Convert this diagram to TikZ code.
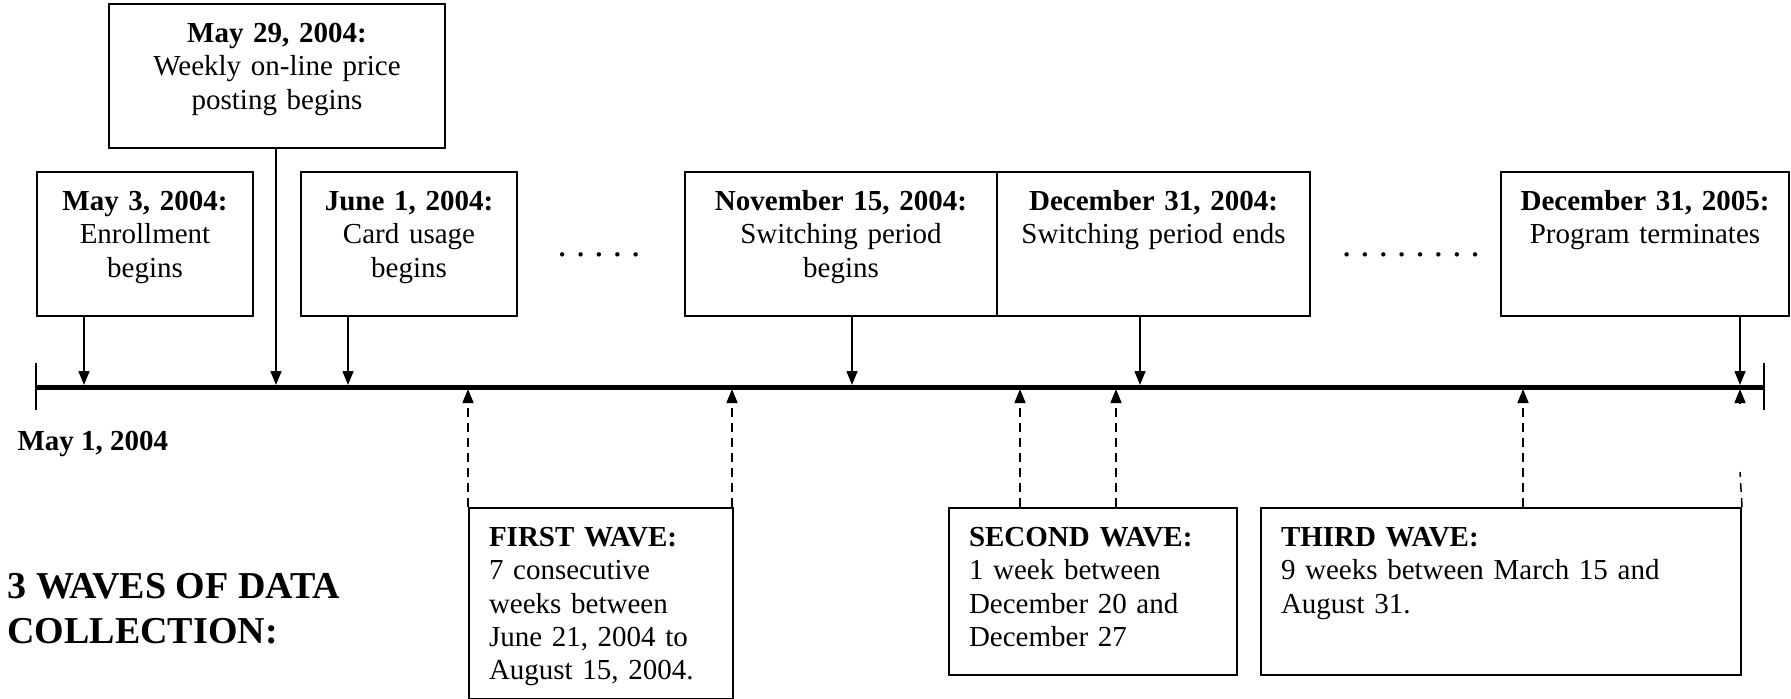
\documentclass[tikz,border=0pt]{standalone}
\usepackage{fontspec}
\setmainfont{Liberation Serif}
\usetikzlibrary{arrows.meta}

\tikzset{
  evbox/.style={draw, line width=0.8pt, inner xsep=4pt, inner ysep=7.4pt, text height=8pt, align=center, anchor=north west},
  wavebox/.style={evbox, inner xsep=8pt, align=left},
  evarrow/.style={line width=0.6pt, -{Triangle[length=5.6pt, width=4.4pt]}},
  wavearrow/.style={evarrow, dash pattern=on 3.6pt off 2.4pt},
  timeline/.style={line width=2pt},
  dotrow/.style={inner sep=0pt, font=\fontsize{#1}{#1}\selectfont},
}

\begin{document}
\begin{tikzpicture}[x=0.4pt, y=-0.4pt, every node/.style={font=\fontsize{11.6}{13.3}\selectfont}] % 1 Einheit = 1 Pixel
\useasboundingbox (0,0) rectangle (1791,699);
% Zeitachse
\coordinate (tlA) at (36,387);
\coordinate (tlB) at (1764,387);
\draw[timeline] (tlA) -- (tlB);
\draw[line width=0.6pt] (36,363) -- (36,410);
\draw[line width=0.6pt] (1764,363) -- (1764,410);
\node[anchor=base west, inner sep=0pt] (startdate) at (17,450) {\textbf{May 1, 2004}};
% Ereignisse oben
\node[evbox, text width=126.4pt, text depth=34.8pt] (posting) at (108,3) {\textbf{May 29, 2004:}\\Weekly on-line price\\posting begins};
\node[evbox, text width=78.4pt, text depth=34.8pt] (enroll) at (36,171) {\textbf{May 3, 2004:}\\Enrollment\\begins};
\node[evbox, text width=78.4pt, text depth=34.8pt] (usage) at (300,171) {\textbf{June 1, 2004:}\\Card usage\\begins};
\node[evbox, text width=116.8pt, text depth=34.8pt] (switchA) at (684,171) {\textbf{November 15, 2004:}\\Switching period\\begins};
\node[evbox, text width=117.2pt, text depth=34.8pt] (switchB) at (996,171) {\textbf{December 31, 2004:}\\Switching period ends};
\node[evbox, text width=107.2pt, text depth=34.8pt] (progend) at (1500,171) {\textbf{December 31, 2005:}\\Program terminates};
\node[dotrow=14.7] (gapA) at (599,255) {\frenchspacing. . . . .};
\node[dotrow=14.7] (gapB) at (1411,255) {\frenchspacing. . . . . . . .};
% Pfeile nach unten
\foreach \x/\b in {84/enroll, 276/posting, 348/usage, 852/switchA, 1140/switchB, 1740/progend} {
  \coordinate (e\x) at (\x,385);
  \draw[evarrow] (\b.south -| e\x) -- (e\x);
}
% Wellen unten
\node[anchor=base west, inner sep=0pt, align=left, font=\fontsize{15.2}{18}\selectfont\bfseries] (waves) at (7,643) {3 WAVES OF DATA\\COLLECTION:};
\node[wavebox, text width=89.6pt, text depth=53.6pt] (wave1) at (468,507) {\textbf{FIRST WAVE:}\\7 consecutive\\weeks between\\June 21, 2004 to\\August 15, 2004.};
\node[wavebox, text width=99.2pt, text depth=44pt] (wave2) at (948,507) {\textbf{SECOND WAVE:}\\1 week between\\December 20 and\\December 27};
\node[wavebox, text width=176pt, text depth=44pt] (wave3) at (1260,507) {\textbf{THIRD WAVE:}\\9 weeks between March 15 and\\August 31.};
% gestrichelte Pfeile nach oben
\foreach \x/\b in {468/wave1, 732/wave1, 1020/wave2, 1116/wave2, 1523/wave3} {
  \coordinate (w\x) at (\x,389);
  \draw[wavearrow] (\b.north -| w\x) -- (w\x);
}
\coordinate (w1740) at (1740,389);
\coordinate (w3low) at (1740,403);
\coordinate (w3gap) at (1740,472);
\draw[evarrow] (w3low) -- (w1740);
\draw[wavearrow, -] (wave3.north east) -- (w3gap);
\end{tikzpicture}
\end{document}
